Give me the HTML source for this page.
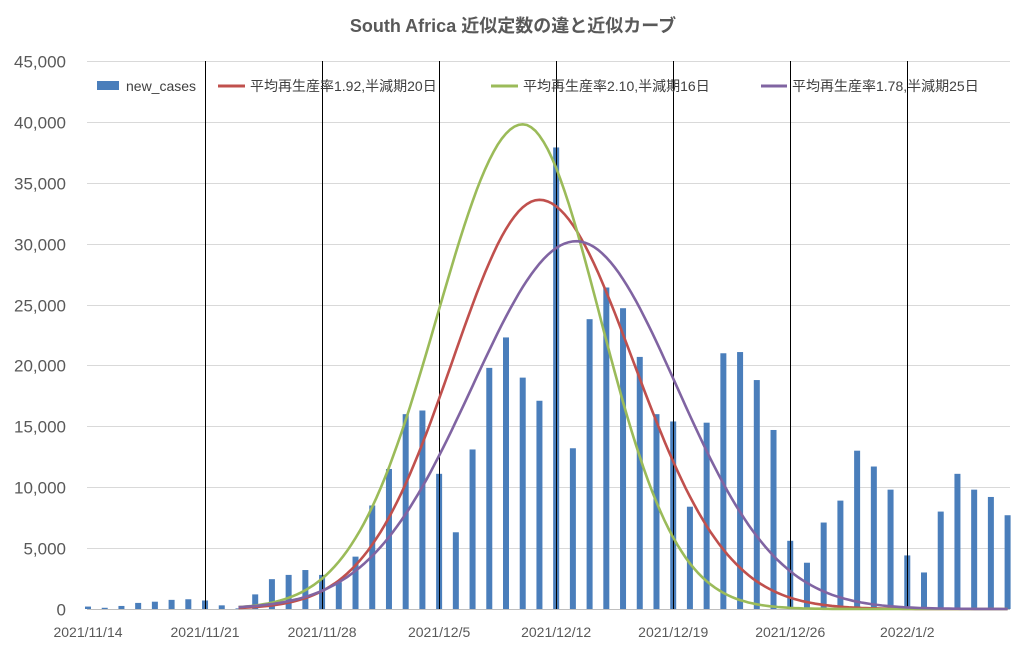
<!DOCTYPE html>
<html><head><meta charset="utf-8"><style>
body{margin:0;background:#fff;}
svg text{font-family:"Liberation Sans","Noto Sans CJK JP",sans-serif;fill:#595959;}
</style></head><body>
<svg id="s" width="1027" height="652" xmlns="http://www.w3.org/2000/svg">
<rect width="1027" height="652" fill="#fff"/>
<text x="513" y="32" text-anchor="middle" font-size="18" font-weight="bold">South Africa  近似定数の違と近似カーブ</text>
<g id="grid"></g>
<g id="bars"></g>
<g id="vl"></g>
<g id="curves"></g>
<g id="lbl"></g>
<g font-size="14">
<rect x="97" y="81" width="22" height="9" fill="#4a7ebb"/>
<text x="126" y="91" style="fill:#404040">new_cases</text>
<line x1="218" y1="86" x2="245" y2="86" stroke="#c0504d" stroke-width="3"/>
<text x="250" y="91" style="fill:#404040">平均再生産率1.92,半減期20日</text>
<line x1="491" y1="86" x2="518" y2="86" stroke="#9bbb59" stroke-width="3"/>
<text x="523" y="91" style="fill:#404040">平均再生産率2.10,半減期16日</text>
<line x1="761" y1="86" x2="787" y2="86" stroke="#8064a2" stroke-width="3"/>
<text x="792" y="91" style="fill:#404040">平均再生産率1.78,半減期25日</text>
</g>
</svg>
<script>
var NS="http://www.w3.org/2000/svg";
function el(p,t,a,txt){var e=document.createElementNS(NS,t);for(var k in a)e.setAttribute(k,a[k]);if(txt)e.textContent=txt;document.getElementById(p).appendChild(e);return e;}
var x0=88,dx=16.72,y0=609,sy=548/45000;
function Y(v){return y0-v*sy;}
for(var i=0;i<=9;i++){var y=Math.round(Y(i*5000))+0.5;
 if(i>0)el("grid","line",{x1:87,x2:1010,y1:y,y2:y,stroke:"#d9d9d9","stroke-width":1});
 el("lbl","text",{x:66,y:y+6,"text-anchor":"end","font-size":"17"},(i*5000).toLocaleString("en-US"));}
el("grid","line",{x1:87,x2:1010,y1:609.5,y2:609.5,stroke:"#bfbfbf","stroke-width":1});
var v=[200,100,250,500,600,750,800,700,300,50,1200,2450,2800,3200,2800,2200,4300,8500,11500,16000,16300,11100,6300,13100,19800,22300,19000,17100,37900,13200,23800,26400,24700,20700,16000,15400,8400,15300,21000,21100,18800,14700,5600,3800,7100,8900,13000,11700,9800,4400,3000,8000,11100,9800,9200,7700];
v.forEach(function(b,d){var x=x0+d*dx;el("bars","rect",{x:x-3,y:Y(b),width:6,height:b*sy,fill:"#4a7ebb"});});
var labs=["2021/11/14","2021/11/21","2021/11/28","2021/12/5","2021/12/12","2021/12/19","2021/12/26","2022/1/2"];
labs.forEach(function(l,k){var x=x0+k*7*dx;var xr=Math.round(x)+0.5;
 if(k>0)el("vl","line",{x1:xr,x2:xr,y1:61,y2:609,stroke:"#000","stroke-width":1});
 el("lbl","text",{x:x,y:637,"text-anchor":"middle","font-size":"14"},l);});
function curve(col,pk,mu,sl,sr){var p="";for(var d=9;d<=55.01;d+=0.25){var s=d<mu?sl:sr;var val=pk*Math.exp(-Math.pow(d-mu,2)/(2*s*s));p+=(p?"L":"M")+(x0+d*dx).toFixed(1)+","+Y(val).toFixed(1);}
 el("curves","path",{d:p,fill:"none",stroke:col,"stroke-width":2.6});}
curve("#c0504d",33600,27,5.2,5.6);
curve("#9bbb59",39800,26,5.1,4.6);
curve("#8064a2",30200,29.2,6.2,6.0);
</script>
</body></html>
